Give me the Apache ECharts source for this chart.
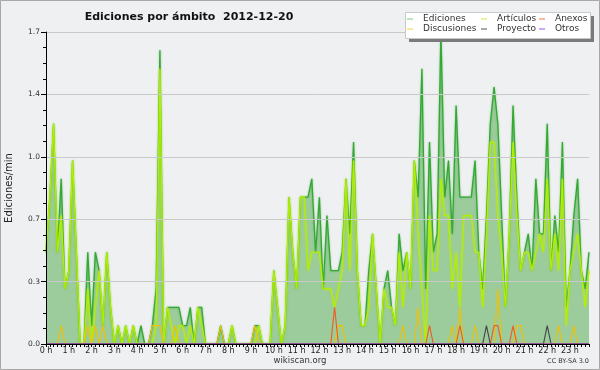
<!DOCTYPE html>
<html>
<head>
<meta charset="utf-8">
<script src="https://cdn.jsdelivr.net/npm/echarts@6/dist/echarts.min.js"></script>
<style>html,body{margin:0;padding:0;background:#eff0f2;}#c{width:600px;height:370px;}</style>
</head>
<body>
<div id="c"></div>
<script>
const hourLabels = ['0 h','1 h','2 h','3 h','4 h','5 h','6 h','7 h','8 h','9 h','10 h','11 h','12 h','13 h','14 h','15 h','16 h','17 h','18 h','19 h','20 h','21 h','22 h','23 h'];
const yTicks = [0, 0.34, 0.68, 1.02, 1.36, 1.7];

const ediciones = [
 0.5,0.8,1.2,0.5,0.9,0.3, 0.4,1.0,0.5,0,0,0.5, 0.1,0.5,0.4,0.1,0.5,0.2,
 0,0.1,0,0.1,0,0.1, 0,0.1,0,0,0.1,0.3, 1.6,0,0.2,0.2,0.2,0.2,
 0.1,0.1,0.2,0,0.2,0.2, 0,0,0,0,0.1,0, 0,0.1,0,0,0,0,
 0,0.1,0.1,0,0,0, 0.4,0.2,0,0.1,0.8,0.5, 0.3,0.8,0.8,0.8,0.9,0.5,
 0.8,0.3,0.7,0.4,0.4,0.4, 0.5,0.9,0.6,1.1,0.4,0.1, 0.1,0.4,0.6,0.3,0,0.3,
 0.4,0.2,0.1,0.6,0.4,0.5, 0.3,1.0,0.8,1.5,0.3,1.1, 0.5,0.6,1.7,0.8,1.0,0.6,
 1.3,0.8,0.8,0.8,0.8,1.0, 0.5,0.3,0.7,1.2,1.4,1.2, 0.7,0.2,0.6,1.3,0.8,0.4,
 0.5,0.6,0.4,0.9,0.6,0.6, 1.2,0.4,0.7,0.5,1.1,0.2, 0.4,0.7,0.9,0.4,0.3,0.5
];
const articulos = [
 0.5,0.8,1.2,0.5,0.7,0.3, 0.4,1.0,0.5,0,0,0.3, 0,0.2,0.4,0.1,0.5,0.2,
 0,0.1,0,0.1,0,0.1, 0,0,0,0,0,0.1, 1.5,0,0.2,0.1,0,0.1,
 0.1,0,0.1,0,0.2,0.1, 0,0,0,0,0,0, 0,0.1,0,0,0,0,
 0,0,0.1,0,0,0, 0.4,0.2,0,0.1,0.8,0.5, 0.3,0.8,0.8,0.4,0.5,0.5,
 0.5,0.3,0.3,0.3,0.2,0.3, 0.4,0.9,0.4,1.0,0.4,0.1, 0.1,0.2,0.6,0.3,0,0.3,
 0.2,0.2,0.1,0.5,0.2,0.5, 0.3,1.0,0.6,0.3,0,0.7, 0.4,0.4,0.9,0.7,0.7,0.3,
 0.5,0.2,0.7,0.7,0.7,0.5, 0.5,0.2,0.6,1.1,1.1,0.7, 0.5,0.2,0.6,1.1,0.7,0.4,
 0.5,0.5,0.4,0.5,0.6,0.5, 0.9,0.4,0.6,0.4,0.9,0.1, 0.4,0.5,0.6,0.4,0.2,0.4
];
const discusiones = [
 0,0,0,0,0.1,0, 0,0,0,0,0,0.1, 0,0.1,0,0.1,0,0,
 0,0,0,0,0,0, 0,0,0,0,0.1,0.1, 0.1,0,0,0,0.1,0,
 0,0,0,0,0,0, 0,0,0,0,0.1,0, 0,0,0,0,0,0,
 0,0.1,0,0,0,0, 0,0,0,0,0,0, 0,0,0,0,0,0,
 0,0,0,0,0,0.1, 0.1,0,0,0,0,0, 0,0,0,0,0,0,
 0,0,0,0,0.1,0, 0,0,0.2,0,0,0, 0,0,0,0,0,0.1,
 0,0.2,0,0,0,0.1, 0,0,0,0,0,0.3, 0,0,0,0,0.1,0.1,
 0,0,0,0,0,0, 0,0,0,0.1,0,0, 0,0.1,0,0,0,0
];
const anexos = [
 0,0,0,0,0,0, 0,0,0,0,0,0, 0,0,0,0,0,0,
 0,0,0,0,0,0, 0,0,0,0,0,0, 0,0,0,0,0,0,
 0,0,0,0,0,0, 0,0,0,0,0,0, 0,0,0,0,0,0,
 0,0,0,0,0,0, 0,0,0,0,0,0, 0,0,0,0,0,0,
 0,0,0,0,0.2,0, 0,0,0,0,0,0, 0,0,0,0,0,0,
 0,0,0,0,0,0, 0,0,0,0,0,0.1, 0,0,0,0,0,0,
 0,0.1,0,0,0,0, 0,0,0,0,0.1,0.1, 0,0,0,0.1,0,0,
 0,0,0,0,0,0, 0,0,0,0,0,0, 0,0,0,0,0,0
];
const proyecto = [
 0,0,0,0,0,0, 0,0,0,0,0,0, 0,0,0,0,0,0,
 0,0,0,0,0,0, 0,0,0,0,0,0, 0,0,0,0,0,0,
 0,0,0,0,0,0, 0,0,0,0,0,0, 0,0,0,0,0,0,
 0,0,0,0,0,0, 0,0,0,0,0,0, 0,0,0,0,0,0,
 0,0,0,0,0,0, 0,0,0,0,0,0, 0,0,0,0,0,0,
 0,0,0,0,0,0, 0,0,0,0,0,0, 0,0,0,0,0,0,
 0,0,0,0,0,0, 0,0,0.1,0,0,0, 0,0,0,0,0,0,
 0,0,0,0,0,0, 0.1,0,0,0,0,0, 0,0,0,0,0,0
];
const otros = new Array(144).fill(0);

const slots = [];
for (let h = 0; h < 24; h++) for (let m = 0; m < 60; m += 10) slots.push(h + ':' + (m < 10 ? '0' : '') + m);

const FONT = 'DejaVu Sans';
const chart = echarts.init(document.getElementById('c'), null, {renderer: 'canvas'});

function lineSeries(name, data, color, width, extra) {
  return Object.assign({
    name: name, type: 'line', data: data, symbol: 'none', showSymbol: false,
    itemStyle: {color: color},
    lineStyle: {color: color, width: width},
    animation: false
  }, extra || {});
}

const legendBase = {
  orient: 'vertical', top: 14, itemGap: 0, padding: 0, z: 120,
  icon: 'rect', itemWidth: 6, itemHeight: 1,
  textStyle: {fontFamily: FONT, fontSize: 9, color: '#333', lineHeight: 10, padding: [0, 0, 0, 5]},
  selectedMode: false
};

chart.setOption({
  backgroundColor: '#eff0f2',
  animation: false,
  title: {
    text: 'Ediciones por ámbito  2012-12-20',
    left: 184, top: 7, textAlign: 'center',
    textStyle: {fontFamily: FONT, fontSize: 11, fontWeight: 'bold', color: '#111'}
  },
  grid: {left: 46, right: 11, top: 32, bottom: 26, containLabel: false, outerBoundsMode: 'none'},
  legend: [
    Object.assign({}, legendBase, {left: 407, data: [
      {name: 'Ediciones', itemStyle: {color: '#7dcc7d'}},
      {name: 'Discusiones', itemStyle: {color: '#f5cf3a'}}]}),
    Object.assign({}, legendBase, {left: 481, data: [
      {name: 'Artículos', itemStyle: {color: '#c8ec3c'}},
      {name: 'Proyecto', itemStyle: {color: '#555'}}]}),
    Object.assign({}, legendBase, {left: 539, data: [
      {name: 'Anexos', itemStyle: {color: '#f07840'}},
      {name: 'Otros', itemStyle: {color: '#9a50ee'}}]})
  ],
  xAxis: {
    type: 'category', data: slots, boundaryGap: false, z: 5,
    axisLine: {show: true, lineStyle: {color: '#000', width: 1}},
    axisTick: {show: true, interval: 0, length: 3, lineStyle: {color: '#000'}},
    axisLabel: {
      interval: 0, margin: 3, fontFamily: FONT, fontSize: 8, color: '#222',
      formatter: function (v, i) { return i % 6 === 0 ? hourLabels[i / 6] : ''; }
    },
    splitLine: {show: false}
  },
  yAxis: {
    type: 'value', min: yTicks[0], max: yTicks[yTicks.length - 1], interval: yTicks[1], z: 5,
    name: 'Ediciones/min', nameLocation: 'middle', nameRotate: 90, nameGap: 32,
    nameTextStyle: {fontFamily: FONT, fontSize: 10, color: '#222'},
    axisLine: {show: true, lineStyle: {color: '#000', width: 1}},
    axisTick: {show: true, length: 5, lineStyle: {color: '#000'}},
    minorTick: {show: true, splitNumber: 4, length: 3, lineStyle: {color: '#000'}},
    axisLabel: {margin: 6, fontFamily: FONT, fontSize: 7.5, color: '#333',
      formatter: function (v) { return v.toFixed(1); }},
    splitLine: {show: true, lineStyle: {color: '#c9c9cb', width: 1}}
  },
  series: [
    lineSeries('Ediciones', ediciones, '#33a833', 1.3, {
      areaStyle: {color: '#9ccb9c', opacity: 1},
      lineStyle: {color: '#33a833', width: 1.3, shadowColor: 'rgba(60,170,60,0.6)', shadowBlur: 2}
    }),
    lineSeries('Artículos', articulos, '#b2ee00', 1.2, {
      lineStyle: {color: '#b2ee00', width: 1.2, shadowColor: 'rgba(190,245,0,0.8)', shadowBlur: 2}
    }),
    lineSeries('Discusiones', discusiones, '#f2c200', 1.1),
    lineSeries('Anexos', anexos, '#f05a1e', 1.1),
    lineSeries('Proyecto', proyecto, '#444444', 1.1),
    lineSeries('Otros', otros, '#8a3ee8', 1.1)
  ],
  graphic: [
    {type: 'rect', z: 1, silent: true, shape: {x: 0.5, y: 0.5, width: 599, height: 369},
     style: {fill: 'none', stroke: '#a8a8a8', lineWidth: 1}},
    {type: 'rect', z: 90, silent: true, shape: {x: 409, y: 16, width: 185, height: 26},
     style: {fill: '#7a7a7a'}},
    {type: 'rect', z: 91, silent: true, shape: {x: 405.5, y: 12.5, width: 185, height: 26},
     style: {fill: '#ffffff', stroke: '#c8c8c8', lineWidth: 1}},
    {type: 'text', z: 5, left: 'center', top: 356,
     style: {text: 'wikiscan.org', fontFamily: FONT, fontSize: 8.5, fill: '#333'}},
    {type: 'text', z: 5, right: 11, top: 358,
     style: {text: 'CC BY-SA 3.0', fontFamily: FONT, fontSize: 6.5, fill: '#333'}}
  ]
});
</script>
</body>
</html>
